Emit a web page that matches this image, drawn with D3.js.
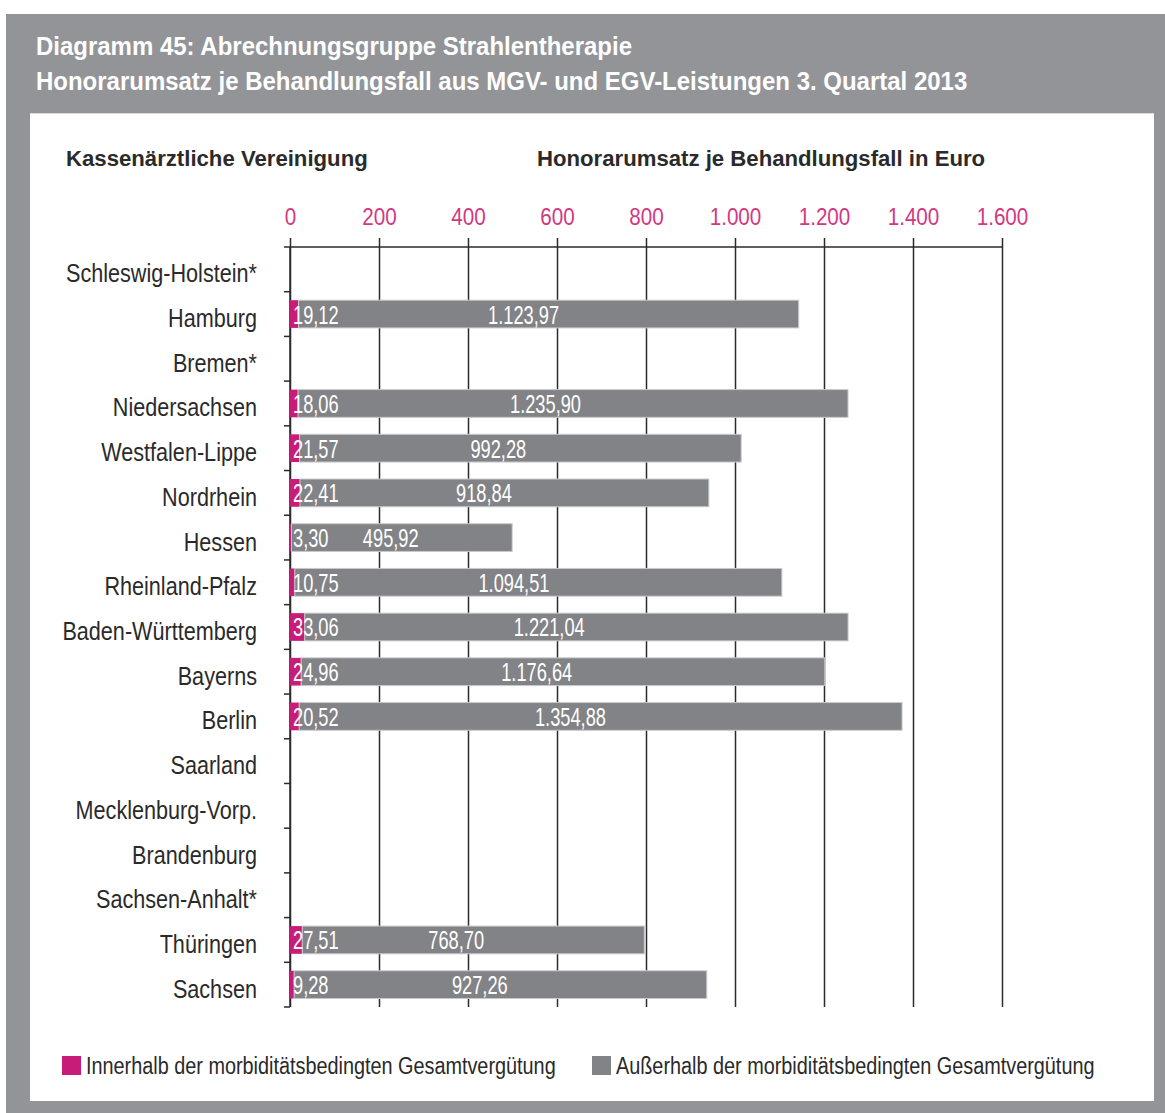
<!DOCTYPE html>
<html>
<head>
<meta charset="utf-8">
<script src="https://cdn.jsdelivr.net/npm/d3@7"></script>
<style>
  html, body { margin: 0; padding: 0; background: #ffffff; }
  svg { display: block; }
  text { font-family: "Liberation Sans Narrow", "Arial Narrow", "Liberation Sans", sans-serif; }
</style>
</head>
<body>
<svg id="chart" width="1165" height="1113"></svg>
<script>
// Kassenärztliche Vereinigungen (rows, top to bottom)
const categories = [
  "Schleswig-Holstein*", "Hamburg", "Bremen*", "Niedersachsen", "Westfalen-Lippe",
  "Nordrhein", "Hessen", "Rheinland-Pfalz", "Baden-Württemberg", "Bayerns", "Berlin",
  "Saarland", "Mecklenburg-Vorp.", "Brandenburg", "Sachsen-Anhalt*", "Thüringen", "Sachsen"
];
// Euro per treatment case, inside the morbidity-based total remuneration
const innerhalb = [null, 19.12, null, 18.06, 21.57, 22.41, 3.30, 10.75, 33.06, 24.96, 20.52,
  null, null, null, null, 27.51, 9.28];
// Euro per treatment case, outside the morbidity-based total remuneration
const ausserhalb = [null, 1123.97, null, 1235.90, 992.28, 918.84, 495.92, 1094.51, 1221.04, 1176.64, 1354.88,
  null, null, null, null, 768.70, 927.26];
const xTicks = [0, 200, 400, 600, 800, 1000, 1200, 1400, 1600];
const seriesNames = ["Innerhalb der morbiditätsbedingten Gesamtvergütung", "Außerhalb der morbiditätsbedingten Gesamtvergütung"];

const C = {
  frame: "#939498",
  pink: "#c81c79",
  pinkText: "#d2387f",
  grey: "#828387",
  grid: "#2b2b2b",
  text: "#2a2a2a"
};

const svg = d3.select("#chart");
const fmt = d3.formatLocale({ decimal: ",", thousands: ".", grouping: [3], currency: ["", "€"] });
const fmtVal = fmt.format(",.2f");
const fmtTick = fmt.format(",d");

// narrow the glyphs horizontally around each text's own x anchor (condensed look)
function condense(sel, k) {
  sel.each(function () {
    const t = d3.select(this);
    const x0 = +t.attr("x") || 0;
    const prev = t.attr("transform") || "";
    t.attr("transform", `${prev} translate(${x0 * (1 - k)},0) scale(${k},1)`);
  });
}

// outer frame and white panel
svg.append("rect").attr("x", 6).attr("y", 14).attr("width", 1159).attr("height", 1099).attr("fill", C.frame);
svg.append("rect").attr("x", 30).attr("y", 113).attr("width", 1124).attr("height", 988).attr("fill", "#ffffff");
svg.append("line").attr("x1", 30).attr("x2", 1154).attr("y1", 113.5).attr("y2", 113.5).attr("stroke", "#d9d9db");

// title
const title = svg.append("g").attr("fill", "#ffffff").attr("font-weight", "bold").attr("font-size", 26.5);
title.append("text").attr("x", 36).attr("y", 55).text("Diagramm 45: Abrechnungsgruppe Strahlentherapie");
title.append("text").attr("x", 36).attr("y", 90).text("Honorarumsatz je Behandlungsfall aus MGV- und EGV-Leistungen 3. Quartal 2013");
condense(title.selectAll("text"), 0.905);

// column headers
const heads = svg.append("g").attr("font-size", 22.5).attr("font-weight", "bold").attr("fill", C.text);
heads.append("text").attr("x", 66).attr("y", 166).text("Kassenärztliche Vereinigung");
heads.append("text").attr("x", 537).attr("y", 166).text("Honorarumsatz je Behandlungsfall in Euro");
condense(heads.selectAll("text"), 0.985);

// scales
const plotTop = 247, plotBottom = 1007;
const x = d3.scaleLinear().domain([0, 1600]).range([290, 1002]);
const y = d3.scaleBand().domain(categories).range([plotTop, plotBottom]).paddingInner(0.38).paddingOuter(0.19);
const step = y.step();

// vertical grid lines with tick labels on top
const xAxis = d3.axisTop(x).tickValues(xTicks).tickFormat(fmtTick).tickSize(0).tickPadding(22);
const gx = svg.append("g").attr("transform", `translate(0,${plotTop})`).call(xAxis);
gx.select(".domain").remove();
gx.selectAll(".tick line").attr("stroke", C.grid).attr("stroke-width", 1.5)
  .attr("y1", -9).attr("y2", plotBottom - plotTop);
gx.selectAll(".tick text").attr("fill", C.pinkText).attr("font-size", 24).attr("font-family", null);
condense(gx.selectAll(".tick text"), 0.86);

// horizontal axis line across the top
svg.append("line").attr("x1", 284).attr("x2", x(1600)).attr("y1", plotTop).attr("y2", plotTop)
  .attr("stroke", C.grid).attr("stroke-width", 1.5);

// left axis with ticks between the rows
svg.append("line").attr("x1", x(0)).attr("x2", x(0)).attr("y1", plotTop).attr("y2", plotBottom)
  .attr("stroke", C.grid).attr("stroke-width", 1.5);
svg.append("g").selectAll("line").data(d3.range(1, categories.length + 1)).join("line")
  .attr("x1", 284).attr("x2", x(0))
  .attr("y1", i => plotTop + i * step).attr("y2", i => plotTop + i * step)
  .attr("stroke", C.grid).attr("stroke-width", 1.5);

// category labels
const catLabels = svg.append("g").selectAll("text").data(categories).join("text")
  .attr("x", 257).attr("y", d => y(d) + y.bandwidth() / 2 + 13)
  .attr("text-anchor", "end").attr("font-size", 25).attr("fill", C.text).text(d => d);
condense(catLabels, 0.865);

// stacked bars
const rows = categories.map((c, i) => ({ c, a: innerhalb[i], b: ausserhalb[i] })).filter(r => r.a != null);
const bars = svg.append("g");
bars.selectAll("rect.in").data(rows).join("rect").attr("class", "in")
  .attr("x", x(0)).attr("y", d => y(d.c)).attr("height", y.bandwidth())
  .attr("width", d => x(d.a) - x(0)).attr("fill", C.pink);
bars.selectAll("rect.out").data(rows).join("rect").attr("class", "out")
  .attr("x", d => x(d.a)).attr("y", d => y(d.c)).attr("height", y.bandwidth())
  .attr("width", d => x(d.a + d.b) - x(d.a)).attr("fill", C.grey)
  .attr("stroke", "#c9c9cb").attr("stroke-width", 1);

// value labels inside the bars
const labels = svg.append("g").attr("fill", "#ffffff").attr("font-size", 25);
labels.selectAll("text.in").data(rows).join("text").attr("class", "in")
  .attr("x", x(0) + 3).attr("y", d => y(d.c) + y.bandwidth() / 2 + 9.5)
  .text(d => fmtVal(d.a));
labels.selectAll("text.out").data(rows).join("text").attr("class", "out")
  .attr("text-anchor", "middle")
  .attr("x", d => x(d.a) + 0.45 * (x(d.a + d.b) - x(d.a)))
  .attr("y", d => y(d.c) + y.bandwidth() / 2 + 9.5)
  .text(d => fmtVal(d.b));
condense(labels.selectAll("text"), 0.73);

// legend
const legend = svg.append("g");
const legendX = [62, 592];
[C.pink, C.grey].forEach((col, i) => {
  legend.append("rect").attr("x", legendX[i]).attr("y", 1056).attr("width", 19).attr("height", 19).attr("fill", col);
  legend.append("text").attr("x", legendX[i] + 24).attr("y", 1074).attr("font-size", 24.5)
    .attr("fill", C.text).text(seriesNames[i]);
});
condense(legend.selectAll("text"), 0.81);
</script>
</body>
</html>
